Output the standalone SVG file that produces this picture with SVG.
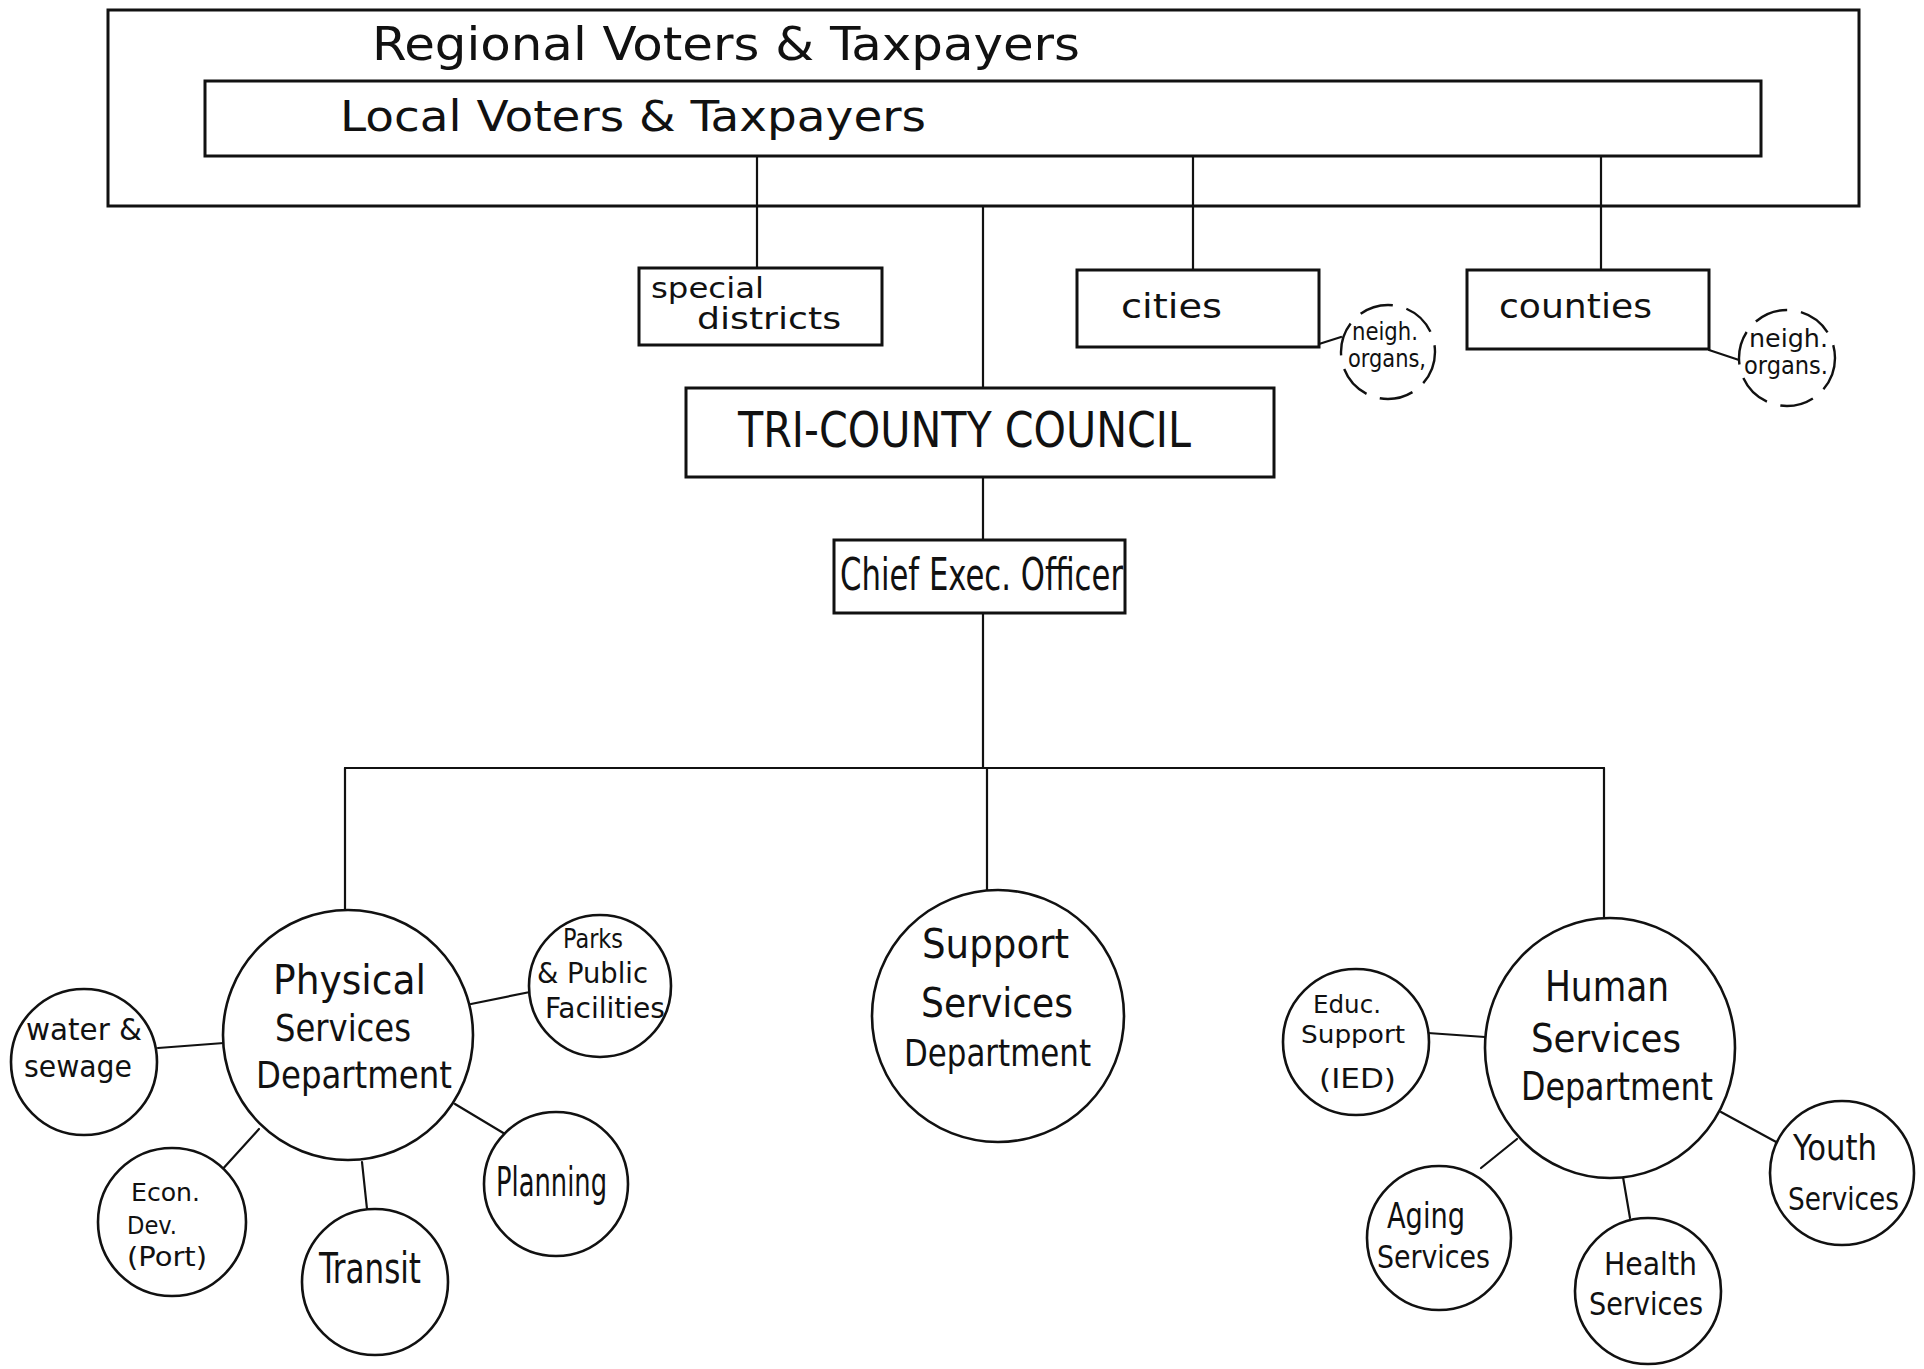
<svg xmlns="http://www.w3.org/2000/svg" width="1924" height="1369" viewBox="0 0 1924 1369">
  <style>
    .box { fill: none; stroke: #111; stroke-width: 3; }
    .node { fill: #fff; stroke: #111; stroke-width: 2.6; }
    .dash { fill: none; stroke: #111; stroke-width: 2.4; stroke-dasharray: 34 14; }
    .wire { fill: none; stroke: #111; stroke-width: 2.2; stroke-linecap: round; }
    text { font-family: "Liberation Sans Narrow", "DejaVu Sans Condensed", "Liberation Sans", sans-serif; fill: #111; }
  </style>
  <rect width="1924" height="1369" fill="#fff"/>

  <!-- connectors -->
  <g id="connectors">
    <line class="wire" x1="757" y1="156" x2="757" y2="268"/>
    <line class="wire" x1="1193" y1="156" x2="1193" y2="269"/>
    <line class="wire" x1="1601" y1="156" x2="1601" y2="269"/>
    <line class="wire" x1="983" y1="206" x2="983" y2="388"/>
    <line class="wire" x1="983" y1="477" x2="983" y2="540"/>
    <line class="wire" x1="983" y1="613" x2="983" y2="768"/>
    <line class="wire" x1="345" y1="768" x2="1604" y2="768"/>
    <line class="wire" x1="345" y1="768" x2="345" y2="910"/>
    <line class="wire" x1="987" y1="768" x2="987" y2="890"/>
    <line class="wire" x1="1604" y1="768" x2="1604" y2="918"/>
    <line class="wire" x1="1319" y1="344" x2="1341" y2="337"/>
    <line class="wire" x1="1709" y1="350" x2="1739" y2="360"/>
    <!-- physical services spokes -->
    <line class="wire" x1="158" y1="1048" x2="224" y2="1043"/>
    <line class="wire" x1="471" y1="1004" x2="530" y2="992"/>
    <line class="wire" x1="455" y1="1104" x2="505" y2="1134"/>
    <line class="wire" x1="362" y1="1162" x2="367" y2="1209"/>
    <line class="wire" x1="259" y1="1129" x2="220" y2="1172"/>
    <!-- human services spokes -->
    <line class="wire" x1="1428" y1="1033" x2="1485" y2="1037"/>
    <line class="wire" x1="1721" y1="1112" x2="1778" y2="1143"/>
    <line class="wire" x1="1623" y1="1177" x2="1630" y2="1218"/>
    <line class="wire" x1="1517" y1="1139" x2="1481" y2="1168"/>
  </g>

  <g id="regional-voters">
    <rect class="box" x="108" y="10" width="1751" height="196"/>
    <text x="372" y="60" font-size="46" textLength="708" lengthAdjust="spacingAndGlyphs">Regional  Voters &amp; Taxpayers</text>
  </g>

  <g id="local-voters">
    <rect class="box" x="205" y="81" width="1556" height="75"/>
    <text x="340" y="131" font-size="43" textLength="586" lengthAdjust="spacingAndGlyphs">Local Voters &amp; Taxpayers</text>
  </g>

  <g id="special-districts">
    <rect class="box" x="639" y="268" width="243" height="77"/>
    <text x="651" y="298" font-size="28" textLength="113" lengthAdjust="spacingAndGlyphs">special</text>
    <text x="697" y="329" font-size="30" textLength="144" lengthAdjust="spacingAndGlyphs">districts</text>
  </g>

  <g id="cities">
    <rect class="box" x="1077" y="270" width="242" height="77"/>
    <text x="1121" y="318" font-size="34" textLength="101" lengthAdjust="spacingAndGlyphs">cities</text>
  </g>

  <g id="cities-neigh-organs">
    <circle class="dash" cx="1388" cy="352" r="47"/>
    <text x="1352" y="340" font-size="24" textLength="66" lengthAdjust="spacingAndGlyphs">neigh.</text>
    <text x="1348" y="367" font-size="24" textLength="78" lengthAdjust="spacingAndGlyphs">organs,</text>
  </g>

  <g id="counties">
    <rect class="box" x="1467" y="270" width="242" height="79"/>
    <text x="1499" y="318" font-size="34" textLength="153" lengthAdjust="spacingAndGlyphs">counties</text>
  </g>

  <g id="counties-neigh-organs">
    <circle class="dash" cx="1787" cy="358" r="48"/>
    <text x="1749" y="347" font-size="24" textLength="79" lengthAdjust="spacingAndGlyphs">neigh.</text>
    <text x="1744" y="374" font-size="24" textLength="84" lengthAdjust="spacingAndGlyphs">organs.</text>
  </g>

  <g id="tri-county-council">
    <rect class="box" x="686" y="388" width="588" height="89"/>
    <text x="738" y="447" font-size="50" textLength="453" lengthAdjust="spacingAndGlyphs">TRI-COUNTY COUNCIL</text>
  </g>

  <g id="chief-exec-officer">
    <rect class="box" x="834" y="540" width="291" height="73"/>
    <text x="840" y="590" font-size="44" textLength="283" lengthAdjust="spacingAndGlyphs">Chief Exec. Officer</text>
  </g>

  <g id="physical-services">
    <circle class="node" cx="348" cy="1035" r="125"/>
    <text x="273" y="994" font-size="40" textLength="153" lengthAdjust="spacingAndGlyphs">Physical</text>
    <text x="275" y="1041" font-size="38" textLength="136" lengthAdjust="spacingAndGlyphs">Services</text>
    <text x="256" y="1088" font-size="38" textLength="196" lengthAdjust="spacingAndGlyphs">Department</text>
  </g>

  <g id="water-sewage">
    <circle class="node" cx="84" cy="1062" r="73"/>
    <text x="26" y="1040" font-size="30" textLength="116" lengthAdjust="spacingAndGlyphs">water &amp;</text>
    <text x="24" y="1077" font-size="30" textLength="108" lengthAdjust="spacingAndGlyphs">sewage</text>
  </g>

  <g id="parks-public-facilities">
    <circle class="node" cx="600" cy="986" r="71"/>
    <text x="563" y="948" font-size="26" textLength="60" lengthAdjust="spacingAndGlyphs">Parks</text>
    <text x="537" y="983" font-size="29" textLength="111" lengthAdjust="spacingAndGlyphs">&amp; Public</text>
    <text x="545" y="1018" font-size="29" textLength="120" lengthAdjust="spacingAndGlyphs">Facilities</text>
  </g>

  <g id="planning">
    <circle class="node" cx="556" cy="1184" r="72"/>
    <text x="496" y="1196" font-size="40" textLength="111" lengthAdjust="spacingAndGlyphs">Planning</text>
  </g>

  <g id="transit">
    <circle class="node" cx="375" cy="1282" r="73"/>
    <text x="319" y="1283" font-size="42" textLength="102" lengthAdjust="spacingAndGlyphs">Transit</text>
  </g>

  <g id="econ-dev">
    <circle class="node" cx="172" cy="1222" r="74"/>
    <text x="131" y="1201" font-size="25" textLength="69" lengthAdjust="spacingAndGlyphs">Econ.</text>
    <text x="127" y="1234" font-size="25" textLength="50" lengthAdjust="spacingAndGlyphs">Dev.</text>
    <text x="127" y="1266" font-size="26" textLength="80" lengthAdjust="spacingAndGlyphs">(Port)</text>
  </g>

  <g id="support-services">
    <circle class="node" cx="998" cy="1016" r="126"/>
    <text x="922" y="958" font-size="40" textLength="147" lengthAdjust="spacingAndGlyphs">Support</text>
    <text x="921" y="1017" font-size="40" textLength="152" lengthAdjust="spacingAndGlyphs">Services</text>
    <text x="904" y="1066" font-size="38" textLength="187" lengthAdjust="spacingAndGlyphs">Department</text>
  </g>

  <g id="human-services">
    <ellipse class="node" cx="1610" cy="1048" rx="125" ry="130"/>
    <text x="1545" y="1001" font-size="42" textLength="124" lengthAdjust="spacingAndGlyphs">Human</text>
    <text x="1531" y="1052" font-size="39" textLength="150" lengthAdjust="spacingAndGlyphs">Services</text>
    <text x="1521" y="1100" font-size="39" textLength="192" lengthAdjust="spacingAndGlyphs">Department</text>
  </g>

  <g id="educ-support">
    <circle class="node" cx="1356" cy="1042" r="73"/>
    <text x="1313" y="1013" font-size="24" textLength="68" lengthAdjust="spacingAndGlyphs">Educ.</text>
    <text x="1301" y="1043" font-size="24" textLength="104" lengthAdjust="spacingAndGlyphs">Support</text>
    <text x="1319" y="1088" font-size="26" textLength="77" lengthAdjust="spacingAndGlyphs">(IED)</text>
  </g>

  <g id="youth-services">
    <circle class="node" cx="1842" cy="1173" r="72"/>
    <text x="1793" y="1160" font-size="36" textLength="84" lengthAdjust="spacingAndGlyphs">Youth</text>
    <text x="1788" y="1210" font-size="32" textLength="111" lengthAdjust="spacingAndGlyphs">Services</text>
  </g>

  <g id="health-services">
    <circle class="node" cx="1648" cy="1291" r="73"/>
    <text x="1604" y="1275" font-size="32" textLength="93" lengthAdjust="spacingAndGlyphs">Health</text>
    <text x="1589" y="1315" font-size="32" textLength="114" lengthAdjust="spacingAndGlyphs">Services</text>
  </g>

  <g id="aging-services">
    <circle class="node" cx="1439" cy="1238" r="72"/>
    <text x="1387" y="1228" font-size="36" textLength="78" lengthAdjust="spacingAndGlyphs">Aging</text>
    <text x="1377" y="1268" font-size="32" textLength="113" lengthAdjust="spacingAndGlyphs">Services</text>
  </g>
</svg>
